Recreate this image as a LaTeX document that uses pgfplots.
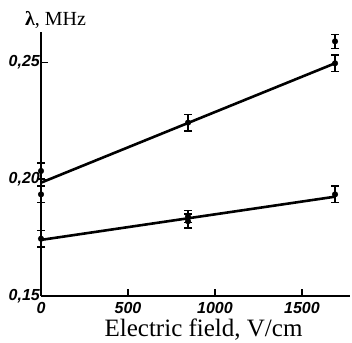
\documentclass[border=0pt]{standalone}
\usepackage{fontspec}
\setmainfont{Liberation Serif}
\setsansfont{Liberation Sans}
\usepackage{pgfplots}
\pgfplotsset{compat=1.18}
\begin{document}
\begin{tikzpicture}
\begin{axis}[
  scale only axis,
  width=309pt, height=264pt,
  xmin=0, xmax=1776, ymin=0.15, ymax=0.263,
  axis lines=left,
  axis line style={line width=1.8pt,-},
  xtick={0,500,1000,1500},
  ytick={0.15,0.20,0.25},
  tick align=inside,
  major tick length=7pt,
  tick style={line width=1.3pt,black},
  /pgf/number format/assume math mode=true,
  /pgf/number format/use comma,
  yticklabel style={/pgf/number format/fixed,/pgf/number format/precision=2,/pgf/number format/fixed zerofill, anchor=east, inner sep=1pt, xshift=0pt},
  xticklabel style={/pgf/number format/1000 sep={}, anchor=north, inner sep=1pt, yshift=-5pt},
  tick label style={font=\sffamily\bfseries\itshape\fontsize{16}{18}\selectfont},
  clip=false,
]
% fitted lines
\addplot[black, line width=2.6pt] coordinates {(0,0.1985) (1690,0.2496)};
\addplot[black, line width=2.6pt] coordinates {(0,0.174) (1690,0.1925)};
% data points with error bars
\addplot[only marks, mark=*, mark size=2.8pt, black,
  error bars/.cd, y dir=both, y explicit, error bar style={line width=1.5pt}, error mark options={rotate=90, mark size=4pt, line width=1.5pt}]
  coordinates {
  (0,0.2035) +- (0,0.0035)
  (0,0.1935) +- (0,0.0035)
  (0,0.1745) +- (0,0.0035)
  (845,0.2242) +- (0,0.0035)
  (845,0.1840) +- (0,0.0025)
  (845,0.1820) +- (0,0.0030)
  (1690,0.2590) +- (0,0.0030)
  (1690,0.2496) +- (0,0.0035)
  (1690,0.1935) +- (0,0.0035)
  };
\node[anchor=base west, font=\fontsize{20}{22}\selectfont, inner sep=0pt] at (rel axis cs:-0.052,1.0) [yshift=6pt] {\textbf{λ}, MHz};
\node[anchor=base, font=\fontsize{25}{28}\selectfont, inner sep=0pt] at (rel axis cs:0.526,-0.155) {Electric field, V/cm};
\path (rel axis cs:-0.1327,-0.178) rectangle (rel axis cs:1.0065,1.1212);
\end{axis}
\end{tikzpicture}
\end{document}
